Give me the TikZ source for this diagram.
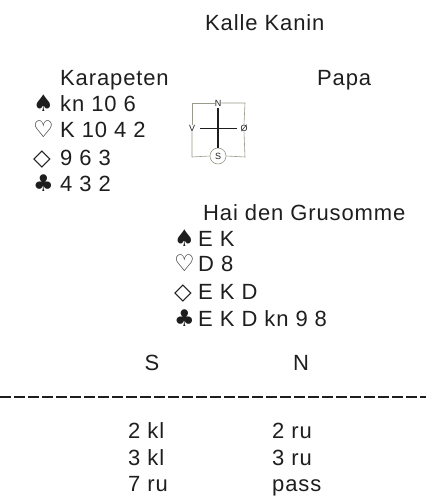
\documentclass[tikz,border=0pt]{standalone}
\usepackage{fontspec}
\setmainfont{Liberation Sans}[LetterSpace=4]
\newfontfamily\suitfont{DejaVu Sans}
\definecolor{ink}{HTML}{1E1E1E}
\definecolor{boxline}{HTML}{9A9A8A}
\begin{document}
\begin{tikzpicture}[x=1pt,y=-1pt,
  txt/.style={anchor=base west,inner sep=0pt,text=ink,font=\fontsize{22}{26}\selectfont},
  ctxt/.style={anchor=base,inner sep=0pt,text=ink,font=\fontsize{22}{26}\selectfont},
  suit/.style={anchor=base west,inner sep=0pt,text=ink,font=\suitfont\fontsize{23}{26}\selectfont},
  small/.style={inner sep=0pt,text=ink,font=\fontsize{9}{10}\selectfont},
  boxln/.style={draw=boxline,line width=0.6pt}]
\useasboundingbox (0,0) rectangle (426,497);
% titles
\node[txt] (kalle) at (205,31) {Kalle Kanin};
\node[txt] (kara) at (60,86) {Karapeten};
\node[txt] (papa) at (317,86) {Papa};
% west hand
\node[suit] (ws) at (33,112) {♠};
\node[txt] (wst) at (60,112) {kn 10 6};
\node[suit] (wh) at (33,138) {♡};
\node[txt] (wht) at (60,138) {K 10 4 2};
\node[suit] (wd) at (33,165) {◇};
\node[txt] (wdt) at (60,165) {9 6 3};
\node[suit] (wc) at (33,191) {♣};
\node[txt] (wct) at (60,191) {4 3 2};
% compass
\node[small] (cn) at (218,103) {N};
\node[small] (cv) at (192,128) {V};
\node[small] (co) at (244,128) {Ø};
\node[small,draw=boxline,circle,minimum size=16pt,line width=0.6pt] (cs) at (218,156) {S};
\draw[boxln] (cn.west) -- (192,103) -- (cv.north);
\draw[boxln] (cn.east) -- (245,103) -- (co.north);
\draw[boxln] (cv.south) -- (192,157) -- (cs.west);
\draw[boxln] (co.south) -- (245,157) -- (cs.east);
\coordinate (hl) at (200,128);
\coordinate (hr) at (237,128);
\coordinate (vt) at (218,108);
\draw[ink,line width=0.7pt] (hl) -- (hr);
\draw[ink,line width=1.3pt] (vt) -- (cs.north);
% south hand
\node[txt] (hai) at (203,220) {Hai den Grusomme};
\node[suit] (ss) at (174,246) {♠};
\node[txt] (sst) at (198,246) {E K};
\node[suit] (sh) at (174,271) {♡};
\node[txt] (sht) at (198,271) {D 8};
\node[suit] (sd) at (174,299) {◇};
\node[txt] (sdt) at (198,299) {E K D};
\node[suit] (sc) at (174,326) {♣};
\node[txt] (sct) at (198,326) {E K D kn 9 8};
% bidding
\node[ctxt] (hs) at (152,370) {S};
\node[ctxt] (hn) at (301,370) {N};
\coordinate (dl) at (0,397);
\coordinate (dr) at (426,397);
\draw[ink,line width=1.1pt,dash pattern=on 11pt off 3pt] (dl) -- (dr);
\node[txt] (b1) at (128,438) {2 kl};
\node[txt] (b2) at (272,438) {2 ru};
\node[txt] (b3) at (128,465) {3 kl};
\node[txt] (b4) at (272,465) {3 ru};
\node[txt] (b5) at (128,491) {7 ru};
\node[txt] (b6) at (272,491) {pass};
\end{tikzpicture}
\end{document}
